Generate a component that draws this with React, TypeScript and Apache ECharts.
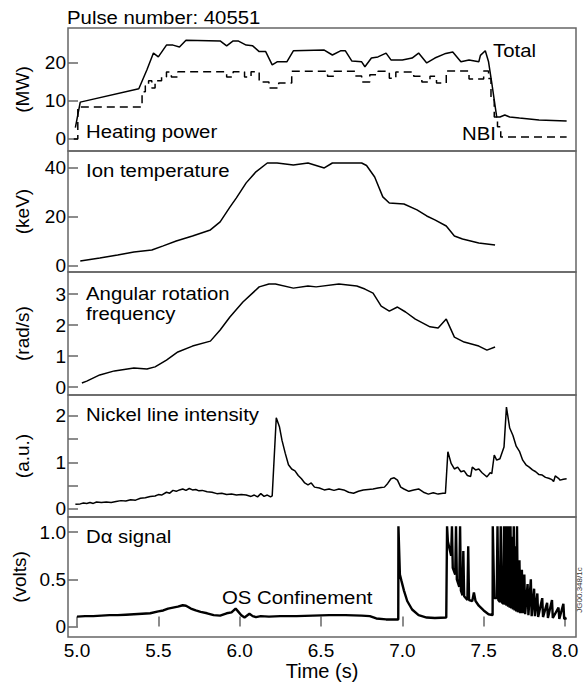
import React, { useEffect, useRef } from 'react';
import * as echarts from 'echarts';

const FONT = '"Liberation Sans", Arial, Helvetica, sans-serif';

// ---- axis tick values ----
const timeTicks = [5.0, 5.5, 6.0, 6.5, 7.0, 7.5, 8.0];
const powerTicks = [0, 10, 20];
const tempTicks = [0, 20, 40];
const rotTicks = [0, 1, 2, 3];
const nickelTicks = [0, 0.5, 1, 1.5, 2];
const nickelLabels = [0, 1, 2];
const dalphaTicks = [0, 0.5, 1.0];

// ---- Heating power (MW) ----
const totalPower: [number, number][] = [
  [4.99, 3.0], [5.02, 9.7], [5.38, 13.2], [5.43, 18.2], [5.47, 22.6], [5.5, 21.6], [5.55, 24.7],
  [5.59, 24.7], [5.63, 24.2], [5.67, 26.0], [5.88, 25.8], [5.92, 24.5], [5.96, 25.8], [5.99, 25.8],
  [6.04, 24.7], [6.08, 24.5], [6.12, 23.0], [6.16, 23.0], [6.2, 19.5], [6.23, 20.3], [6.29, 20.3],
  [6.33, 23.2], [6.52, 23.4], [6.57, 22.1], [6.62, 23.2], [6.65, 23.2], [6.69, 20.5], [6.75, 20.3],
  [6.77, 19.0], [6.81, 21.3], [6.85, 21.6], [6.9, 22.6], [6.93, 20.8], [7.0, 20.8], [7.06, 21.3],
  [7.1, 22.6], [7.15, 20.0], [7.2, 21.3], [7.26, 22.4], [7.31, 22.9], [7.36, 20.3], [7.41, 20.8],
  [7.47, 20.3], [7.48, 22.0], [7.51, 23.2], [7.53, 20.3], [7.55, 14.7], [7.58, 5.8], [7.6, 5.8],
  [7.63, 6.3], [7.66, 5.8], [7.72, 5.5], [7.84, 5.0], [8.01, 4.7],
];
const nbiPower: [number, number][] = [
  [4.98, 0], [5.005, 8.4], [5.4, 12.4], [5.42, 14.0], [5.44, 15.3], [5.46, 13.4], [5.48, 15.3],
  [5.52, 16.3], [5.55, 17.6], [5.58, 16.3], [5.62, 17.7], [5.92, 16.3], [5.96, 17.7], [6.03, 16.3],
  [6.07, 17.7], [6.12, 15.0], [6.18, 13.4], [6.24, 14.7], [6.32, 17.8], [6.54, 16.5], [6.58, 17.8],
  [6.71, 16.6], [6.75, 15.0], [6.8, 16.9], [6.85, 17.8], [6.92, 16.0], [6.96, 17.6], [7.07, 16.5],
  [7.12, 15.0], [7.17, 16.5], [7.21, 14.7], [7.27, 17.9], [7.41, 15.8], [7.5, 17.9], [7.53, 15.9],
  [7.545, 10.3], [7.565, 5.8], [7.585, 3.2], [7.605, 0.5], [8.01, 0.5],
];

// ---- Ion temperature (keV) ----
const ionTemp: [number, number][] = [
  [5.02, 2.0], [5.14, 3.3], [5.25, 4.5], [5.35, 5.7], [5.46, 6.5], [5.53, 8.2], [5.61, 10.2],
  [5.71, 12.2], [5.82, 14.7], [5.88, 18.0], [5.94, 24.0], [5.98, 27.8], [6.04, 33.9], [6.1, 38.4],
  [6.17, 42.0], [6.23, 42.0], [6.33, 41.2], [6.42, 42.0], [6.52, 40.0], [6.57, 42.0], [6.75, 42.0],
  [6.78, 41.0], [6.83, 36.3], [6.88, 28.2], [6.92, 25.7], [7.01, 25.3], [7.09, 22.9], [7.15, 20.4],
  [7.2, 18.8], [7.27, 16.3], [7.32, 12.2], [7.37, 11.0], [7.47, 9.4], [7.57, 8.6],
];

// ---- Angular rotation frequency (rad/s) ----
const rotation: [number, number][] = [
  [5.03, 0.13], [5.06, 0.19], [5.14, 0.39], [5.23, 0.52], [5.35, 0.61], [5.43, 0.58], [5.48, 0.65],
  [5.55, 0.87], [5.62, 1.13], [5.71, 1.32], [5.82, 1.48], [5.88, 1.84], [5.94, 2.26], [6.02, 2.74],
  [6.12, 3.23], [6.18, 3.32], [6.22, 3.32], [6.33, 3.19], [6.42, 3.26], [6.47, 3.23], [6.61, 3.32],
  [6.72, 3.26], [6.77, 3.16], [6.82, 3.03], [6.87, 2.61], [6.92, 2.45], [6.97, 2.58], [7.02, 2.42],
  [7.08, 2.19], [7.17, 1.94], [7.22, 1.9], [7.27, 2.19], [7.32, 1.61], [7.38, 1.45], [7.47, 1.32],
  [7.52, 1.19], [7.57, 1.29],
];

// ---- Nickel line intensity (a.u.) ----
const nickel: [number, number][] = [
  [4.99, 0.1], [5.02, 0.11], [5.04, 0.13], [5.06, 0.12], [5.08, 0.14], [5.1, 0.12], [5.12, 0.15],
  [5.15, 0.14], [5.18, 0.15], [5.21, 0.14], [5.24, 0.16], [5.27, 0.18], [5.3, 0.17], [5.33, 0.2],
  [5.36, 0.19], [5.39, 0.23], [5.42, 0.24], [5.45, 0.27], [5.48, 0.28], [5.5, 0.31], [5.52, 0.3],
  [5.55, 0.36], [5.57, 0.34], [5.59, 0.4], [5.61, 0.38], [5.63, 0.41], [5.65, 0.43], [5.67, 0.4],
  [5.69, 0.44], [5.71, 0.41], [5.73, 0.42], [5.75, 0.39], [5.77, 0.4], [5.8, 0.37], [5.83, 0.36],
  [5.86, 0.33], [5.89, 0.34], [5.92, 0.31], [5.95, 0.32], [5.98, 0.3], [6.01, 0.31], [6.04, 0.3],
  [6.07, 0.27], [6.09, 0.3], [6.11, 0.26], [6.13, 0.33], [6.15, 0.27], [6.17, 0.3], [6.19, 0.26],
  [6.2, 0.28], [6.225, 1.96], [6.245, 1.76], [6.26, 1.48], [6.28, 1.2], [6.3, 0.95], [6.32, 0.86],
  [6.34, 0.82], [6.36, 0.72], [6.38, 0.65], [6.4, 0.56], [6.42, 0.52], [6.44, 0.56], [6.46, 0.47],
  [6.49, 0.45], [6.52, 0.41], [6.55, 0.43], [6.58, 0.4], [6.61, 0.43], [6.64, 0.41], [6.67, 0.36],
  [6.7, 0.34], [6.73, 0.38], [6.76, 0.41], [6.79, 0.42], [6.82, 0.43], [6.85, 0.45], [6.87, 0.46],
  [6.89, 0.47], [6.91, 0.55], [6.93, 0.65], [6.95, 0.67], [6.97, 0.62], [6.99, 0.47], [7.01, 0.43],
  [7.04, 0.38], [7.07, 0.41], [7.1, 0.43], [7.13, 0.36], [7.16, 0.32], [7.19, 0.35], [7.22, 0.32],
  [7.25, 0.34], [7.265, 0.34], [7.28, 1.23], [7.3, 0.98], [7.32, 0.86], [7.34, 0.9], [7.36, 0.8],
  [7.38, 0.82], [7.4, 0.72], [7.42, 0.7], [7.43, 0.9], [7.45, 0.84], [7.47, 0.86], [7.49, 0.78],
  [7.51, 0.72], [7.52, 0.69], [7.54, 0.78], [7.55, 0.76], [7.565, 1.16], [7.58, 1.05], [7.6, 1.08],
  [7.625, 1.33], [7.64, 2.19], [7.66, 1.74], [7.68, 1.58], [7.7, 1.35], [7.72, 1.24], [7.74, 1.05],
  [7.76, 0.95], [7.78, 0.9], [7.8, 0.84], [7.82, 0.8], [7.84, 0.74], [7.86, 0.73], [7.88, 0.68],
  [7.9, 0.66], [7.92, 0.63], [7.93, 0.59], [7.94, 0.71], [7.96, 0.66], [7.97, 0.62], [7.99, 0.64],
  [8.01, 0.65],
];

// ---- D-alpha signal (volts) ----
const dalpha: [number, number][] = [
  [5.0, 0.105], [5.05, 0.11], [5.1, 0.11], [5.15, 0.115], [5.2, 0.12], [5.25, 0.12], [5.3, 0.125],
  [5.35, 0.13], [5.4, 0.135], [5.45, 0.14], [5.5, 0.16], [5.53, 0.17], [5.56, 0.19], [5.59, 0.2],
  [5.62, 0.21], [5.65, 0.225], [5.67, 0.22], [5.7, 0.19], [5.73, 0.17], [5.76, 0.155], [5.8, 0.14],
  [5.84, 0.12], [5.88, 0.115], [5.92, 0.14], [5.95, 0.15], [5.975, 0.19], [5.99, 0.16], [6.01, 0.12],
  [6.03, 0.095], [6.06, 0.135], [6.08, 0.11], [6.1, 0.1], [6.13, 0.11], [6.18, 0.105], [6.25, 0.11],
  [6.35, 0.11], [6.45, 0.115], [6.55, 0.12], [6.65, 0.12], [6.75, 0.115], [6.8, 0.11], [6.84, 0.085],
  [6.9, 0.075], [6.96, 0.075], [6.975, 0.075], [6.976, 1.06], [6.985, 0.55], [6.995, 0.48],
  [7.01, 0.38], [7.03, 0.27], [7.06, 0.18], [7.1, 0.12], [7.15, 0.095], [7.2, 0.09], [7.27, 0.095],
  [7.275, 1.06], [7.28, 0.9], [7.3, 0.75], [7.305, 1.06], [7.31, 0.62], [7.325, 0.55], [7.33, 1.06],
  [7.335, 0.5], [7.35, 0.42], [7.355, 1.06], [7.36, 0.38], [7.37, 0.33], [7.375, 0.8], [7.38, 0.32],
  [7.4, 0.28], [7.405, 0.85], [7.41, 0.28], [7.43, 0.27], [7.44, 0.36], [7.45, 0.27], [7.47, 0.22],
  [7.5, 0.17], [7.53, 0.13], [7.555, 0.12], [7.556, 1.06], [7.565, 0.3], [7.58, 0.3], [7.585, 1.06],
  [7.59, 0.28], [7.6, 0.26], [7.605, 1.06], [7.61, 0.26], [7.62, 0.24], [7.625, 1.06], [7.63, 0.23],
  [7.635, 1.06], [7.64, 0.22], [7.645, 1.06], [7.65, 0.21], [7.655, 1.06], [7.66, 0.2], [7.665, 1.06],
  [7.67, 0.19], [7.675, 0.95], [7.68, 0.18], [7.685, 1.06], [7.69, 0.17], [7.695, 0.85], [7.7, 0.16],
  [7.705, 1.06], [7.71, 0.15], [7.72, 0.7], [7.725, 0.14], [7.735, 0.6], [7.74, 0.14], [7.75, 0.55],
  [7.755, 0.13], [7.77, 0.45], [7.775, 0.12], [7.79, 0.5], [7.795, 0.11], [7.81, 0.4], [7.815, 0.11],
  [7.83, 0.35], [7.835, 0.1], [7.86, 0.3], [7.865, 0.1], [7.89, 0.25], [7.895, 0.09], [7.92, 0.28],
  [7.925, 0.09], [7.96, 0.2], [7.965, 0.08], [7.99, 0.24], [7.995, 0.08], [8.01, 0.09],
];

const GRAY = '#666';
const grids = [
  { top: 28, height: 123 },
  { top: 151, height: 121 },
  { top: 272, height: 123 },
  { top: 395, height: 122 },
  { top: 517, height: 120 },
];
const yRanges = [
  { min: -3.16, max: 29.2, ticks: powerTicks, labels: powerTicks, name: '(MW)', fmt: (v: number) => String(v) },
  { min: -2.45, max: 46.9, ticks: tempTicks, labels: tempTicks, name: '(keV)', fmt: (v: number) => String(v) },
  { min: -0.258, max: 3.71, ticks: rotTicks, labels: rotTicks, name: '(rad/s)', fmt: (v: number) => String(v) },
  { min: -0.172, max: 2.45, ticks: nickelTicks, labels: nickelLabels, name: '(a.u.)', fmt: (v: number) => String(v) },
  { min: -0.111, max: 1.159, ticks: dalphaTicks, labels: dalphaTicks, name: '(volts)', fmt: (v: number) => (v === 0 ? '0' : v.toFixed(1)) },
];

function label(text: string, x: number, y: number, extra: any = {}) {
  return {
    type: 'text',
    x,
    y,
    scaleX: 1.1,
    style: {
      text,
      fontSize: 18.5,
      fontFamily: FONT,
      fill: '#000',
      align: 'left',
      verticalAlign: 'middle',
      ...extra,
    },
  };
}

export default function App() {
  const ref = useRef<HTMLDivElement>(null);
  useEffect(() => {
    document.body.style.margin = '0';
    const chart = echarts.init(ref.current!, null, { renderer: 'svg' });
    const lineBase = { type: 'line', showSymbol: false, symbol: 'none', animation: false, z: 3 };
    const option: any = {
      animation: false,
      backgroundColor: '#fff',
      textStyle: { fontFamily: FONT },
      grid: grids.map((g) => ({
        left: 68,
        width: 508,
        top: g.top,
        height: g.height,
        show: true,
        borderColor: GRAY,
        borderWidth: 1.5,
        backgroundColor: 'transparent',
      })),
      xAxis: grids.map((_, i) => ({
        type: 'value',
        gridIndex: i,
        min: 4.9447,
        max: 8.0676,
        splitLine: { show: false },
        axisLine: { show: false },
        axisTick: {
          show: i === 4,
          inside: true,
          length: 10,
          customValues: timeTicks,
          lineStyle: { color: GRAY, width: 1.5 },
        },
        axisLabel: {
          show: i === 4,
          customValues: timeTicks,
          formatter: (v: number) => v.toFixed(1),
          fontSize: 19,
          color: '#000',
          fontFamily: FONT,
          margin: 4,
        },
        name: i === 4 ? 'Time (s)' : '',
        nameLocation: 'middle',
        nameGap: 19,
        nameTextStyle: { fontSize: 20, color: '#000', fontFamily: FONT },
      })),
      yAxis: yRanges.map((r, i) => ({
        type: 'value',
        gridIndex: i,
        min: r.min,
        max: r.max,
        splitLine: { show: false },
        axisLine: { show: false },
        axisTick: {
          show: true,
          inside: true,
          length: 10,
          customValues: r.ticks,
          lineStyle: { color: GRAY, width: 1.5 },
        },
        axisLabel: {
          customValues: r.labels,
          formatter: r.fmt,
          fontSize: 19,
          color: '#000',
          fontFamily: FONT,
          margin: 2,
        },
        name: r.name,
        nameLocation: 'middle',
        nameGap: 36,
        nameTextStyle: { fontSize: 19, color: '#000', fontFamily: FONT },
      })),
      series: [
        { ...lineBase, name: 'Total', xAxisIndex: 0, yAxisIndex: 0, data: totalPower, lineStyle: { color: '#000', width: 1.5 } },
        { ...lineBase, name: 'NBI', xAxisIndex: 0, yAxisIndex: 0, data: nbiPower, step: 'end', lineStyle: { color: '#000', width: 1.5, type: [8, 5] } },
        { ...lineBase, name: 'Ion temperature', xAxisIndex: 1, yAxisIndex: 1, data: ionTemp, lineStyle: { color: '#000', width: 1.5 } },
        { ...lineBase, name: 'Angular rotation frequency', xAxisIndex: 2, yAxisIndex: 2, data: rotation, lineStyle: { color: '#000', width: 1.5 } },
        { ...lineBase, name: 'Nickel line intensity', xAxisIndex: 3, yAxisIndex: 3, data: nickel, lineStyle: { color: '#000', width: 1.5 } },
        { ...lineBase, name: 'D-alpha signal', xAxisIndex: 4, yAxisIndex: 4, data: dalpha, lineStyle: { color: '#000', width: 2.4 } },
      ],
      graphic: [
        label('Pulse number: 40551', 67, 17),
        label('Heating power', 86, 131),
        label('Total', 493, 50),
        label('NBI', 462, 133.5),
        label('Ion temperature', 86, 170),
        label('Angular rotation', 86, 293.5),
        label('frequency', 86, 313),
        label('Nickel line intensity', 86, 414),
        label('Dα signal', 86, 536),
        label('OS Confinement', 222, 597.5),
        {
          type: 'text',
          x: 579,
          y: 590,
          rotation: Math.PI / 2,
          style: {
            text: 'JG00.348/1c',
            fontSize: 8,
            fontFamily: FONT,
            fill: '#333',
            align: 'center',
            verticalAlign: 'middle',
          },
        },
      ],
    };
    chart.setOption(option);
    return () => chart.dispose();
  }, []);
  return <div ref={ref} style={{ width: 585, height: 691 }} />;
}
